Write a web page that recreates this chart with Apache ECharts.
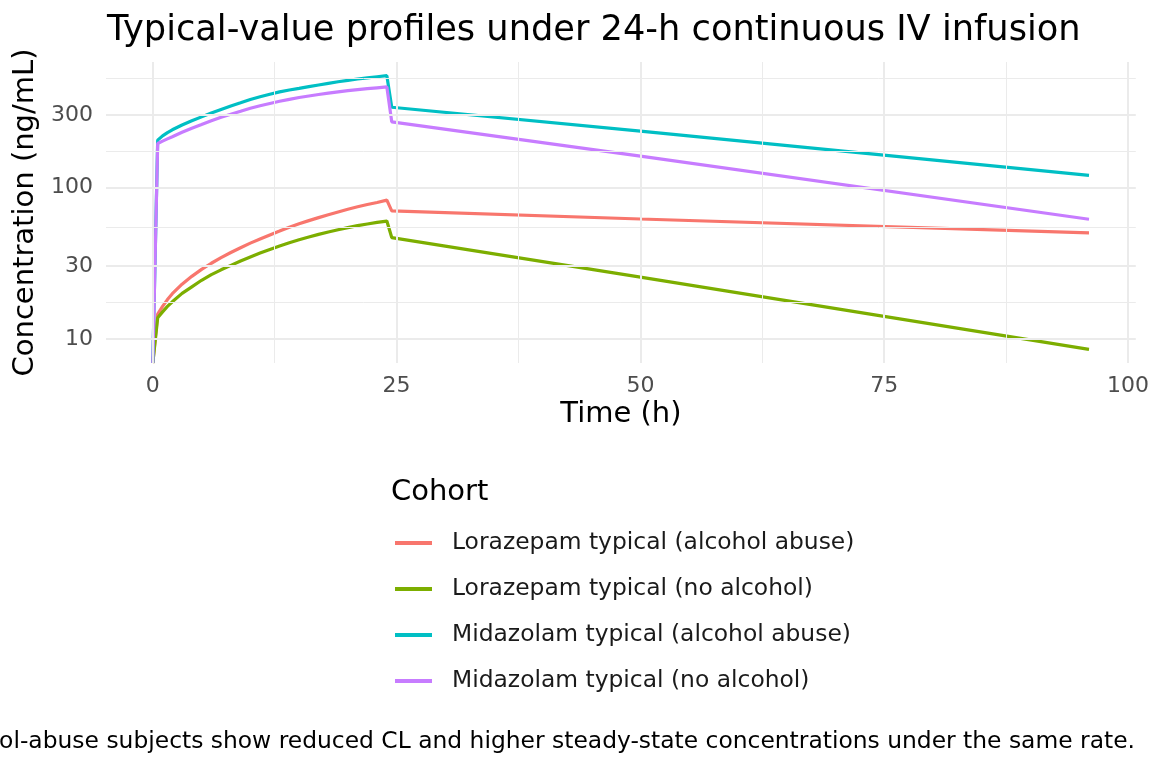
<!DOCTYPE html>
<html>
<head>
<meta charset="utf-8">
<script src="https://cdn.jsdelivr.net/npm/echarts@6/dist/echarts.min.js"></script>
<style>
  html, body { margin: 0; padding: 0; background: #fff; }
  #main { width: 1152px; height: 768px; }
</style>
</head>
<body>
<div id="main"></div>
<script>
// time points (h)
var times = [0, 0.5, 1, 1.5, 2, 3, 4, 5, 6, 7, 8, 9, 10, 11, 12, 13, 14, 15, 16, 17, 18, 19, 20, 21, 22, 23, 24,
             24.5, 50, 96];

// concentrations (ng/mL); 0 at t=0 is drawn on the panel floor, as ggplot does with -Inf
var loraAlcohol   = [0, 14.6, 16.4, 18.2, 19.9, 23.0, 25.9, 28.8, 31.6, 34.4, 37.2, 40.0, 42.9, 45.7, 48.6,
                     51.5, 54.6, 57.5, 60.4, 63.2, 66.1, 68.9, 71.8, 74.5, 77.1, 79.6, 82.4,
                     70.0, 61.9, 50.1];
var loraNoAlcohol = [0, 13.8, 15.1, 16.4, 17.6, 20.0, 22.1, 24.4, 26.6, 28.6, 30.6, 32.7, 34.8, 36.9, 39.0,
                     41.1, 43.2, 45.2, 47.1, 49.0, 50.8, 52.6, 54.3, 56.0, 57.4, 58.8, 60.0,
                     46.7, 25.6, 8.55];
var midaAlcohol   = [0, 205, 219, 230, 240, 258, 275, 292, 310, 327, 345, 362, 380, 396, 412,
                     427, 439, 450, 462, 474, 486, 498, 508, 519, 528, 537, 546,
                     338, 235, 120];
var midaNoAlcohol = [0, 195, 202, 209, 216, 231, 246, 260, 275, 290, 304, 318, 333, 346, 358,
                     370, 381, 392, 401, 410, 419, 427, 435, 442, 448, 454, 460,
                     271, 161, 61.7];

var seriesNames = [
    'Lorazepam typical (alcohol abuse)',
    'Lorazepam typical (no alcohol)',
    'Midazolam typical (alcohol abuse)',
    'Midazolam typical (no alcohol)'
];
var seriesColors = ['#F8766D', '#7CAE00', '#00BFC4', '#C77CFF'];

var xTicks = [0, 25, 50, 75, 100];
var xMinorTicks = [12.5, 37.5, 62.5, 87.5];
var yTickLabels = [10, 30, 100, 300];

var allValues = [loraAlcohol, loraNoAlcohol, midaAlcohol, midaNoAlcohol];

// log10 limits with ggplot-like 5% expansion
var logs = [];
allValues.forEach(function(arr){
    arr.forEach(function(v){ if (v > 0) logs.push(Math.log10(v)); });
});
var lo = Math.min.apply(null, logs), hi = Math.max.apply(null, logs);
var yMin = lo - (hi - lo) * 0.05;
var yMax = hi + (hi - lo) * 0.05;
var xMin = -4.8, xMax = 100.8;

var yMajor = yTickLabels.map(function(v){ return Math.log10(v); });
var yMinor = [];
for (var i = 0; i < yMajor.length - 1; i++) yMinor.push((yMajor[i] + yMajor[i + 1]) / 2);
yMinor.push(yMajor[yMajor.length - 1] + (yMajor[yMajor.length - 1] - yMajor[yMajor.length - 2]) / 2);

function toPoints(arr){
    return times.map(function(t, k){
        var v = arr[k];
        return [t, v > 0 ? Math.log10(v) : yMin];
    });
}

var grey = '#EBEBEB';
var font = 'DejaVu Sans';

var series = [
    {
        name: 'minorGrid', type: 'line', data: [], silent: true, z: 0,
        markLine: {
            silent: true, symbol: 'none', animation: false,
            label: { show: false },
            lineStyle: { color: grey, width: 1, type: 'solid' },
            data: xMinorTicks.map(function(v){ return { xAxis: v }; })
                .concat(yMinor.map(function(v){ return { yAxis: v }; }))
        }
    },
    {
        name: 'majorGrid', type: 'line', data: [], silent: true, z: 0,
        markLine: {
            silent: true, symbol: 'none', animation: false,
            label: { show: false },
            lineStyle: { color: grey, width: 2, type: 'solid' },
            data: xTicks.map(function(v){ return { xAxis: v }; })
                .concat(yMajor.map(function(v){ return { yAxis: v }; }))
        }
    }
];

allValues.forEach(function(arr, k){
    series.push({
        name: seriesNames[k],
        type: 'line',
        data: toPoints(arr),
        showSymbol: false,
        symbol: 'none',
        clip: true,
        z: 2,
        lineStyle: { color: seriesColors[k], width: 3.2 },
        itemStyle: { color: seriesColors[k] }
    });
});

var myChart = echarts.init(document.getElementById('main'), null, { renderer: 'canvas' });

var option = {
    backgroundColor: '#fff',
    animation: false,
    textStyle: { fontFamily: font },
    title: [
        {
            text: 'Typical-value profiles under 24-h continuous IV infusion',
            left: 102, top: 8,
            textStyle: { fontFamily: font, fontSize: 35.2, fontWeight: 'normal', color: '#000' }
        },
        {
            text: 'Cohort',
            left: 386, top: 473,
            textStyle: { fontFamily: font, fontSize: 29, fontWeight: 'normal', color: '#000' }
        }
    ],
    legend: {
        data: seriesNames,
        orient: 'vertical',
        left: 395, top: 530,
        padding: 0,
        icon: 'rect',
        itemWidth: 37, itemHeight: 4,
        itemGap: 20,
        textStyle: { fontFamily: font, fontSize: 23.4, color: '#1a1a1a', lineHeight: 26, padding: [0, 0, 0, 15] }
    },
    grid: { left: 106, right: 15, top: 62, bottom: 405 },
    xAxis: {
        type: 'value',
        min: xMin, max: xMax,
        name: 'Time (h)',
        nameLocation: 'middle',
        nameGap: 37,
        nameTextStyle: { fontFamily: font, fontSize: 29, color: '#000' },
        axisLine: { show: false },
        axisTick: { show: false },
        splitLine: { show: false },
        axisLabel: {
            customValues: xTicks,
            margin: 12,
            fontFamily: font, fontSize: 22, color: '#4D4D4D'
        }
    },
    yAxis: {
        type: 'value',
        min: yMin, max: yMax,
        name: 'Concentration (ng/mL)',
        nameLocation: 'middle',
        nameGap: 60,
        nameTextStyle: { fontFamily: font, fontSize: 29, color: '#000' },
        axisLine: { show: false },
        axisTick: { show: false },
        splitLine: { show: false },
        axisLabel: {
            customValues: yMajor,
            margin: 13,
            fontFamily: font, fontSize: 22, color: '#4D4D4D',
            formatter: function(v){
                var idx = 0, best = 1e9;
                yMajor.forEach(function(m, k){ if (Math.abs(m - v) < best) { best = Math.abs(m - v); idx = k; } });
                return String(yTickLabels[idx]);
            }
        }
    },
    graphic: [
        {
            type: 'text',
            right: 17, top: 730,
            style: {
                text: 'Alcohol-abuse subjects show reduced CL and higher steady-state concentrations under the same rate.',
                font: '23.4px "DejaVu Sans"',
                fill: '#000'
            }
        }
    ],
    series: series
};

myChart.setOption(option);
</script>
</body>
</html>
